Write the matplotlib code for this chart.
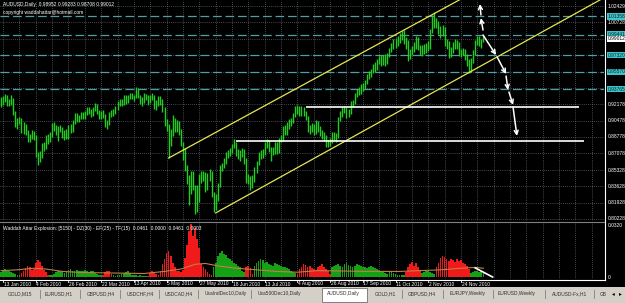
import numpy as np
import matplotlib
matplotlib.use("Agg")
import matplotlib.pyplot as plt
from matplotlib.patches import Rectangle
from matplotlib.lines import Line2D
from matplotlib.transforms import blended_transform_factory

plt.rcParams['font.family'] = ['Liberation Sans', 'DejaVu Sans']

# AUDUSD daily bars, 12 Jan 2010 .. 9 Dec 2010, price * 10000
hi = [9290, 9300, 9330, 9320, 9270, 9310, 9285, 9150, 9075, 9090,
      9075, 9030, 9010, 8950, 8905, 8950, 8940, 8900, 8720, 8730,
      8810, 8830, 8900, 8910, 8930, 9020, 9030, 9000, 8990, 9000,
      8980, 8950, 8960, 9000, 9010, 9050, 9130, 9130, 9110, 9140,
      9140, 9150, 9190, 9190, 9170, 9190, 9230, 9220, 9160, 9150,
      9160, 9120, 9050, 9140, 9160, 9170, 9200, 9250, 9270, 9270,
      9310, 9320, 9320, 9340, 9340, 9320, 9400, 9390, 9320, 9290,
      9340, 9330, 9310, 9320, 9340, 9320, 9260, 9300, 9300, 9270,
      9190, 9060, 9010, 8960, 9110, 9080, 9050, 9040, 8960, 8820,
      8760, 8580, 8480, 8520, 8520, 8380, 8380, 8490, 8520, 8520,
      8510, 8500, 8540, 8520, 8300, 8280, 8400, 8580, 8610, 8660,
      8720, 8740, 8760, 8800, 8860, 8830, 8750, 8740, 8760, 8750,
      8660, 8490, 8470, 8480, 8560, 8630, 8720, 8740, 8750, 8830,
      8860, 8850, 8770, 8770, 8830, 8820, 8870, 8900, 8990, 9000,
      9030, 9060, 9080, 9130, 9200, 9210, 9200, 9200, 9190, 9150,
      9100, 9000, 9020, 9010, 9050, 9040, 8990, 8950, 8930, 8900,
      8850, 8870, 8930, 8930, 8920, 9090, 9150, 9190, 9200, 9190,
      9170, 9250, 9260, 9340, 9380, 9400, 9430, 9440, 9470, 9530,
      9570, 9590, 9640, 9660, 9690, 9720, 9730, 9730, 9740, 9750,
      9810, 9860, 9900, 9910, 9930, 9960, 9980, 9995, 9920, 9890,
      9800, 9830, 9870, 9930, 9920, 9840, 9840, 9850, 9860, 9880,
      10000, 10150, 10180, 10120, 10090, 10030, 10050, 10020, 9900, 9880,
      9820, 9870, 9900, 9890, 9870, 9800, 9810, 9790, 9740, 9690,
      9700, 9780, 9890, 9930, 9930, 9900, 9928]
lo = [9195, 9210, 9245, 9200, 9205, 9215, 9110, 8985, 8960, 9010,
      8920, 8910, 8895, 8830, 8820, 8860, 8850, 8670, 8580, 8620,
      8660, 8730, 8750, 8800, 8830, 8880, 8940, 8900, 8840, 8930,
      8870, 8850, 8860, 8860, 8920, 8930, 9010, 9030, 9030, 9060,
      9060, 9070, 9110, 9120, 9090, 9100, 9150, 9120, 9070, 9060,
      9080, 8980, 8960, 9000, 9090, 9100, 9120, 9160, 9200, 9200,
      9210, 9220, 9230, 9270, 9270, 9250, 9280, 9280, 9220, 9200,
      9230, 9260, 9210, 9230, 9260, 9170, 9160, 9200, 9210, 9140,
      8990, 8940, 8660, 8780, 8890, 8930, 8930, 8900, 8780, 8640,
      8520, 8390, 8170, 8280, 8320, 8070, 8100, 8200, 8400, 8420,
      8300, 8320, 8420, 8250, 8090, 8120, 8210, 8360, 8520, 8550,
      8600, 8660, 8680, 8710, 8760, 8680, 8650, 8630, 8670, 8600,
      8400, 8390, 8320, 8340, 8410, 8500, 8580, 8650, 8660, 8690,
      8760, 8720, 8630, 8690, 8700, 8700, 8710, 8820, 8840, 8900,
      8900, 8960, 8990, 9020, 9090, 9120, 9100, 9100, 9100, 9050,
      8930, 8910, 8930, 8900, 8910, 8930, 8890, 8860, 8840, 8770,
      8770, 8780, 8810, 8850, 8830, 8870, 9040, 9090, 9130, 9080,
      9090, 9120, 9190, 9220, 9290, 9310, 9330, 9360, 9380, 9430,
      9480, 9500, 9540, 9560, 9580, 9640, 9620, 9630, 9620, 9640,
      9710, 9760, 9800, 9810, 9830, 9860, 9890, 9850, 9800, 9670,
      9690, 9730, 9760, 9800, 9780, 9730, 9720, 9740, 9750, 9770,
      9800, 9960, 10010, 10010, 9950, 9910, 9930, 9830, 9800, 9700,
      9710, 9750, 9800, 9790, 9720, 9710, 9730, 9680, 9620, 9540,
      9560, 9650, 9730, 9840, 9830, 9810, 9870]

# Waddah Attar Explosion histogram (x 10000), negative = red bar
wae = [30, 45, 50, 40, 35, 30, 25, 20, 15, 10,
       -25, -40, -55, -70, -60, -45, -50, -85, -105, -95,
       -70, -45, -30, -15, 10, 15, 20, 30, 35, 40,
       30, 25, 40, 45, 50, 40, 35, 45, 40, 35,
       40, 45, 35, 30, 40, 35, 25, 20, 10, 10,
       -15, -30, -40, -35, -20, 10, 8, 12, 15, 20,
       25, 30, 35, 25, 15, 10, 12, 8, 10, 6,
       8, 5, -8, -25, -35, -30, -20, -15, -40, -80,
       -110, -150, -160, -130, -90, -60, -40, -35, -30, -45,
       -120, -200, -290, -330, -260, -310, -240, -180, -80, -60,
       -50, -30, -20, -15, 60, 90, 130, 150, 160, 145,
       140, 120, 110, 100, 90, 80, 70, 60, 40, 30,
       -65, -70, -55, -20, 70, 85, 100, 110, 105, 90,
       95, 80, 75, 70, 85, 80, 75, 70, 65, 60,
       55, 50, 40, 30, 25, -20, -50, -65, -80, -75,
       -60, -70, -55, -50, -45, -60, -70, -80, -65, -50,
       -40, -20, 60, 70, 75, 80, 70, 65, 80, 85,
       75, 70, 65, 70, 80, 75, 70, 60, 65, 55,
       60, 70, 65, 55, 50, 45, 40, 30, 25, 20,
       30, 35, 25, 20, 15, 10, 15, 10, -30, -60,
       -80, -95, -70, -85, -60, -40, 25, 30, 40, 35,
       30, 25, 20, -60, -90, -120, -130, -125, -110, -100,
       -115, -105, -95, -110, -100, -105, -90, -80, -70, -50,
       25, 30, 35, 40, 30, 35, 30]
# explosion line (x 10000)
exp_x = [0, 8, 16, 22, 30, 40, 55, 70, 80, 88, 95, 100, 106, 115, 125,
         135, 145, 155, 165, 180, 195, 205, 215, 225, 232, 236]
exp_y = [40, 45, 55, 50, 35, 28, 25, 22, 35, 50, 80, 85, 70, 55, 45,
         35, 30, 40, 38, 35, 35, 40, 45, 55, 60, 55]

time_labels = ['13 Jan 2010', '4 Feb 2010', '26 Feb 2010', '22 Mar 2010',
               '13 Apr 2010', '5 May 2010', '27 May 2010', '18 Jun 2010',
               '13 Jul 2010', '4 Aug 2010', '26 Aug 2010', '17 Sep 2010',
               '11 Oct 2010', '2 Nov 2010', '24 Nov 2010']
grid_prices = [1.02429, 1.00728, 0.98978, 0.97278, 0.95578, 0.93878, 0.92178,
               0.90478, 0.88778, 0.87078, 0.85328, 0.83628, 0.81928, 0.80228]
price_labels = ['1.02429', '1.00728', '0.92178', '0.90478', '0.88778',
                '0.87078', '0.85328', '0.83628', '0.81928', '0.80228']
level_prices = [1.01358, 0.99441, 0.97320, 0.95570, 0.93765]
close_price = 0.99012

chan_up_x, chan_up_y = [82, 232], [0.8658, 1.0397]
chan_dn_x, chan_dn_y = [105, 295], [0.8085, 1.0330]
white_lines = [(0.9190, 149, 283), (0.8835, 115, 285)]
arrows = [((235.8, 0.9993), (234.8, 1.0118)),
          ((234.8, 1.0150), (234.3, 1.0264)),
          ((235.8, 0.9941), (242.2, 0.9732)),
          ((242.7, 0.9712), (247.1, 0.9534)),
          ((247.1, 0.9513), (248.0, 0.9367)),
          ((248.5, 0.9346), (250.5, 0.9211)),
          ((250.5, 0.9190), (252.4, 0.8888))]
ind_line_x, ind_line_y = [232, 240.5], [0.0057, 0.0]

tabs = [('GOLD,M15', 8), ('EURUSD,H1', 45), ('GBPUSD,H4', 87), ('USDCHF,H4', 127),
        ('USDCAD,H4', 165), ('UsaIndDec10,Daily', 205), ('Usa500Dec10,Daily', 258),
        ('AUDUSD,Daily', 327), ('GOLD,H1', 375), ('GBPUSD,H4', 408),
        ('EURJPY,Weekly', 450), ('EURUSD,Weekly', 498), ('AUDUSD-Fx,H1', 552),
        ('GB', 600)]
tab_seps = [40, 80, 120, 159, 198, 251, 402, 443, 493, 545, 594]

W, H = 625.0, 303.0
FS = 3.5
GRID = '#7d8c9a'


def box(x0, y0, x1, y1):
    return [x0 / W, 1 - y1 / H, (x1 - x0) / W, (y1 - y0) / H]


fig = plt.figure(figsize=(6.25, 3.03), dpi=100, facecolor='black')
ax = fig.add_axes(box(0, 0, 604, 221))
ax2 = fig.add_axes(box(0, 222, 604, 279))
for a in (ax, ax2):
    a.set_facecolor('black')
    a.set_xlim(-0.5, 295)
    for s in a.spines.values():
        s.set_visible(False)
    a.set_xticks([])
    a.set_yticks([])
ax.set_ylim(0.8001, 1.0306)
ax2.set_ylim(-0.00125, 0.0345)

# grid
grid_x = np.arange(1, 295, 8)
for a in (ax, ax2):
    for gx in grid_x:
        a.axvline(gx, color=GRID, lw=0.5, ls=(0, (1, 2)), zorder=0)
for gp in grid_prices:
    ax.axhline(gp, color=GRID, lw=0.5, ls=(0, (1, 2)), zorder=0)

# horizontal levels
for lp in level_prices:
    ax.axhline(lp, color='#4f9fa6', lw=0.9, ls=(0, (7, 3)), zorder=1)

# price bars
idx = np.arange(len(hi))
ax.vlines(idx, np.array(lo) / 1e4, np.array(hi) / 1e4, color='#22cc22', lw=1.0, zorder=3)

# channel and drawn lines
ax.plot(chan_up_x, chan_up_y, color='#e6e650', lw=0.9, zorder=4)
ax.plot(chan_dn_x, chan_dn_y, color='#e6e650', lw=0.9, zorder=4)
for p, x0, x1 in white_lines:
    ax.hlines(p, x0, x1, color='white', lw=1.2, zorder=4)
for (x0, y0), (x1, y1) in arrows:
    ax.annotate('', xy=(x1, y1), xytext=(x0, y0),
                arrowprops=dict(arrowstyle='->', color='white', lw=1.1,
                                shrinkA=0, shrinkB=0, mutation_scale=7), zorder=5)

ax.text(0.005, 0.99, 'AUDUSD,Daily  0.98952 0.99283 0.98708 0.99012',
        transform=ax.transAxes, color='white', fontsize=FS, va='top')
ax.text(0.005, 0.955, 'copyright waddahattar@hotmail.com',
        transform=ax.transAxes, color='white', fontsize=FS, va='top')

# indicator
vals = np.array(wae) / 1e4
cols = np.where(vals >= 0, '#16a016', '#f01a1a')
ax2.bar(np.arange(len(wae)), np.abs(vals), width=0.85, color=cols, zorder=3)
ax2.plot(exp_x, np.array(exp_y) / 1e4, color='#c08048', lw=0.8, zorder=4)
ax2.plot(ind_line_x, ind_line_y, color='white', lw=1.2, zorder=5)
ax2.text(0.005, 0.93, 'Waddah Attar Explosion: [5150] - DZ(30) - EF(25) - TF(15)  0.0461  0.0000  0.0461  0.0003',
         transform=ax2.transAxes, color='white', fontsize=FS, va='top')

# price scale
ty = ax.get_yaxis_transform()
for lab in price_labels:
    ax.text(1.006, float(lab), lab, transform=ty, color='white', fontsize=FS,
            va='center', ha='left', clip_on=False)
for lp in level_prices:
    ax.text(1.006, lp, '%.5f' % lp, transform=ty, color='#102020', fontsize=FS,
            va='center', ha='left', clip_on=False,
            bbox=dict(boxstyle='square,pad=0.15', fc='#3cc6cc', ec='none'))
ax.text(1.006, close_price, '%.5f' % close_price, transform=ty, color='black',
        fontsize=FS, va='center', ha='left', clip_on=False,
        bbox=dict(boxstyle='square,pad=0.15', fc='white', ec='none'))
ty2 = ax2.get_yaxis_transform()
ax2.text(1.006, 0.0320, '0.0320', transform=ty2, color='white', fontsize=FS,
         va='center', ha='left', clip_on=False)
ax2.text(1.006, 0.0, '0', transform=ty2, color='white', fontsize=FS,
         va='center', ha='left', clip_on=False)

# borders
fig.add_artist(Line2D([0, 604.5 / W], [1 - 279.5 / H] * 2, color='white', lw=0.8))
fig.add_artist(Line2D([604.5 / W] * 2, [1, 1 - 279.5 / H], color='white', lw=0.8))
fig.add_artist(Line2D([0, 604 / W], [1 - 221.5 / H] * 2, color='#808080', lw=0.8))

# time axis
tt = blended_transform_factory(ax2.transData, fig.transFigure)
for k, lab in enumerate(time_labels):
    xpos = 1 + 16 * k
    ax2.add_line(Line2D([xpos, xpos], [1 - 279.5 / H, 1 - 282 / H], transform=tt,
                        color='white', lw=0.6, clip_on=False))
    ax2.text(xpos + 0.3, 1 - 284 / H, lab, transform=tt, color='white',
             fontsize=FS, va='center', ha='left', clip_on=False)

# tab bar
fig.add_artist(Rectangle((0, 0), 1, 16 / H, transform=fig.transFigure,
                         fc='#d4d0c8', ec='none'))
fig.add_artist(Rectangle((322 / W, 1 / H), 45 / W, 14 / H, transform=fig.transFigure,
                         fc='white', ec='#707070', lw=0.6))
for name, x in tabs:
    fig.text(x / W, 1 - 294 / H, name, fontsize=FS, color='#303030', va='center')
for sx in tab_seps:
    fig.add_artist(Line2D([sx / W] * 2, [1 - 290 / H, 1 - 298 / H], color='#808080', lw=0.6))
fig.text(612 / W, 1 - 294 / H, '\u25c2', fontsize=4, color='black', va='center',
         family='DejaVu Sans')
fig.text(619 / W, 1 - 294 / H, '\u25b8', fontsize=4, color='black', va='center',
         family='DejaVu Sans')

fig.savefig('out.png', dpi=100, facecolor='black')
